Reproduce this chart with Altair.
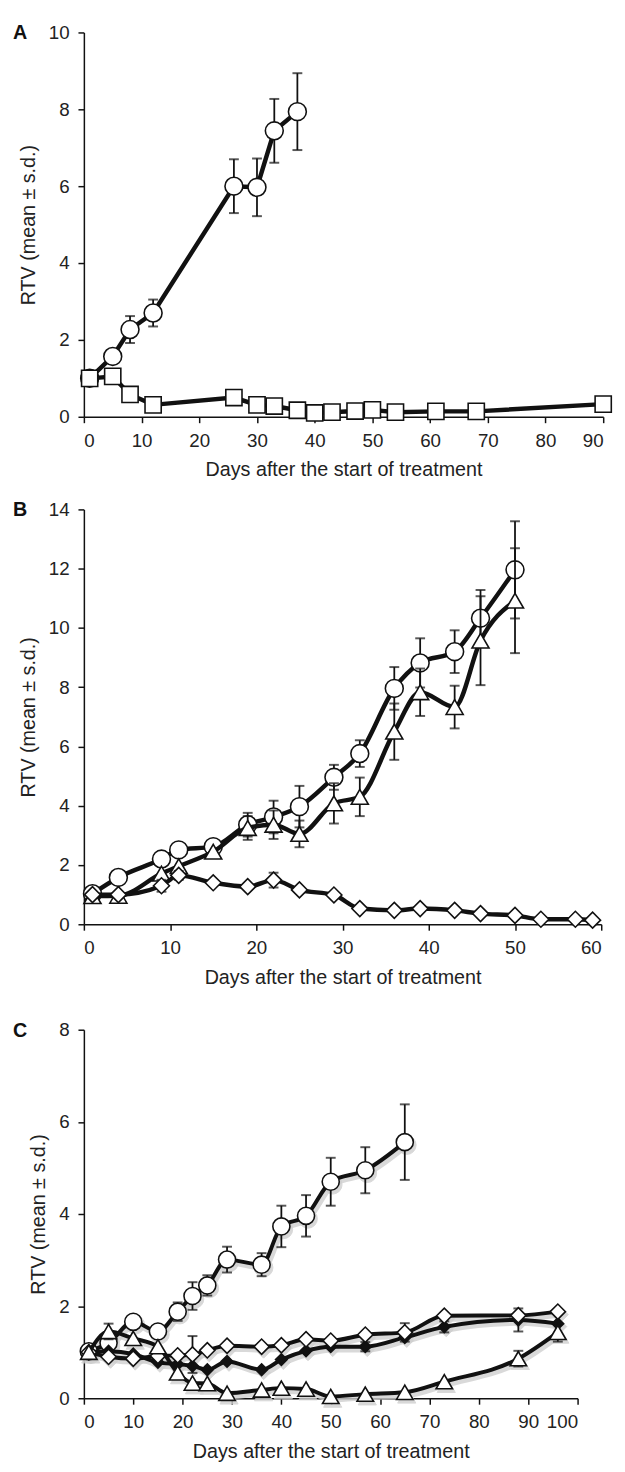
import altair as alt
import pandas as pd

FONT = "Liberation Sans"
INK = "#111111"

# ---------------- Panel A ----------------
a_circle_days = [1, 5, 8, 12, 26, 30, 33, 37]
a_circle = [1.0, 1.57, 2.27, 2.70, 6.00, 5.97, 7.44, 7.94]
a_circle_sd = [0, 0, 0.35, 0.35, 0.70, 0.75, 0.83, 1.00]

a_square_days = [1, 5, 8, 12, 26, 30, 33, 37, 40, 43, 47, 50, 54, 61, 68, 90]
a_square = [1.0, 1.05, 0.58, 0.31, 0.50, 0.31, 0.28, 0.17, 0.10, 0.12, 0.15, 0.18, 0.12, 0.14, 0.14, 0.33]
a_square_sd = [0, 0, 0, 0, 0, 0, 0, 0, 0, 0, 0, 0, 0, 0, 0, 0]

# ---------------- Panel B ----------------
b_days = [1, 4, 9, 11, 15, 19, 22, 25, 29, 32, 36, 39, 43, 46, 50]
b_circle = [1.03, 1.58, 2.20, 2.51, 2.62, 3.36, 3.62, 3.97, 4.96, 5.76, 7.96, 8.82, 9.20, 10.33, 11.96]
b_circle_sd = [0, 0, 0, 0, 0.15, 0.40, 0.55, 0.70, 0.42, 0.45, 0.72, 0.83, 0.72, 0.95, 1.64]
b_triangle = [0.95, 0.96, 1.71, 1.96, 2.45, 3.25, 3.36, 3.05, 4.08, 4.30, 6.50, 7.83, 7.33, 9.57, 10.92]
b_triangle_sd = [0, 0, 0, 0, 0, 0.40, 0.48, 0.45, 0.68, 0.65, 0.95, 0.80, 0.72, 1.50, 1.77]
b_diamond_days = [1, 4, 9, 11, 15, 19, 22, 25, 29, 32, 36, 39, 43, 46, 50, 53, 57, 59]
b_diamond = [1.0, 1.0, 1.30, 1.65, 1.40, 1.27, 1.49, 1.16, 0.99, 0.53, 0.47, 0.53, 0.47, 0.36, 0.30, 0.17, 0.17, 0.14]
b_diamond_sd = [0, 0, 0.20, 0.15, 0, 0, 0.25, 0, 0, 0, 0, 0, 0, 0, 0, 0, 0, 0]

# ---------------- Panel C ----------------
c_circle_days = [1, 5, 10, 15, 19, 22, 25, 29, 36, 40, 45, 50, 57, 65]
c_circle = [1.02, 1.20, 1.66, 1.45, 1.88, 2.22, 2.45, 3.01, 2.90, 3.73, 3.96, 4.70, 4.95, 5.56]
c_circle_sd = [0, 0, 0, 0, 0.20, 0.30, 0.22, 0.28, 0.25, 0.45, 0.45, 0.52, 0.50, 0.82]

c_days = [1, 5, 10, 15, 19, 22, 25, 29, 36, 40, 45, 50, 57, 65, 73, 88, 96]
c_open_diamond = [1.0, 0.90, 0.86, 0.92, 0.93, 0.95, 1.04, 1.14, 1.12, 1.15, 1.28, 1.25, 1.38, 1.43, 1.79, 1.80, 1.88]
c_open_diamond_sd = [0, 0, 0, 0, 0, 0.40, 0, 0, 0, 0, 0, 0, 0, 0.20, 0, 0, 0]
c_black_diamond = [1.0, 1.02, 0.96, 0.78, 0.74, 0.70, 0.62, 0.80, 0.62, 0.84, 1.03, 1.12, 1.12, 1.32, 1.55, 1.70, 1.62]
c_black_diamond_sd = [0, 0, 0, 0, 0, 0, 0, 0, 0, 0, 0, 0, 0.10, 0, 0.12, 0.25, 0]
c_triangle = [1.0, 1.45, 1.30, 1.12, 0.55, 0.33, 0.32, 0.11, 0.18, 0.22, 0.20, 0.04, 0.09, 0.13, 0.36, 0.86, 1.43]
c_triangle_sd = [0, 0.17, 0, 0, 0, 0, 0, 0, 0, 0, 0, 0, 0, 0, 0, 0.17, 0.20]

X_TITLE = "Days after the start of treatment"
Y_TITLE = "RTV (mean ± s.d.)"


def make_panel(letter, series, xmax, xticks, ymax, yticks, width, height,
               interp, line_w, shadow=False):
    xscale = alt.Scale(domain=[0, xmax], nice=False, zero=True)
    yscale = alt.Scale(domain=[0, ymax], nice=False, zero=True)
    xaxis = alt.Axis(values=xticks, title=X_TITLE, grid=False, format="d")
    yaxis = alt.Axis(values=yticks, title=Y_TITLE, grid=False, format="d")

    def X():
        return alt.X("day:Q", scale=xscale, axis=xaxis)

    def Y(field):
        return alt.Y(f"{field}:Q", scale=yscale, axis=yaxis)

    frames = []
    for s in series:
        df = pd.DataFrame({"day": s["days"], "v": s["vals"], "sd": s["sd"]})
        df["lo"] = df["v"] - df["sd"]
        df["hi"] = df["v"] + df["sd"]
        frames.append((s, df))

    layers = []
    if shadow:
        for s, df in frames:
            layers.append(
                alt.Chart(df).mark_line(
                    color="#cfcfcf", strokeWidth=line_w + 2, interpolate=interp,
                    xOffset=2, yOffset=3, opacity=0.8,
                ).encode(x=X(), y=Y("v"))
            )
            layers.append(
                alt.Chart(df).mark_point(
                    shape=s["shape"], size=s["size"] + 60, filled=True,
                    fill="#cfcfcf", stroke="#cfcfcf", strokeWidth=1,
                    xOffset=2, yOffset=3, opacity=0.8,
                ).encode(x=X(), y=Y("v"))
            )

    for s, df in frames:
        err = df[df["sd"] > 0]
        if len(err) > 0:
            layers.append(
                alt.Chart(err).mark_rule(color=INK, strokeWidth=1.8).encode(
                    x=X(), y=Y("lo"), y2="hi:Q"
                )
            )
            for f in ["lo", "hi"]:
                layers.append(
                    alt.Chart(err).mark_tick(
                        color=INK, orient="horizontal", size=10, thickness=2
                    ).encode(x=X(), y=Y(f))
                )
        layers.append(
            alt.Chart(df).mark_line(
                color=INK, strokeWidth=line_w, interpolate=interp
            ).encode(x=X(), y=Y("v"))
        )
        layers.append(
            alt.Chart(df).mark_point(
                shape=s["shape"], size=s["size"], filled=True,
                fill=s["fill"], stroke=INK, strokeWidth=1.6, opacity=1,
            ).encode(x=X(), y=Y("v"))
        )

    label = alt.Chart(pd.DataFrame({"t": [letter]})).mark_text(
        font=FONT, fontSize=20, fontWeight="bold", align="left",
        baseline="middle", color=INK,
    ).encode(x=alt.value(-72), y=alt.value(1), text="t:N")
    layers.append(label)

    return alt.layer(*layers).properties(width=width, height=height)


panel_a = make_panel(
    "A",
    [
        dict(days=a_circle_days, vals=a_circle, sd=a_circle_sd, shape="circle", size=330, fill="white"),
        dict(days=a_square_days, vals=a_square, sd=a_square_sd, shape="square", size=270, fill="white"),
    ],
    90, [0, 10, 20, 30, 40, 50, 60, 70, 80, 90], 10, [0, 2, 4, 6, 8, 10],
    527, 390, "linear", 4.5,
)

panel_b = make_panel(
    "B",
    [
        dict(days=b_days, vals=b_circle, sd=b_circle_sd, shape="circle", size=330, fill="white"),
        dict(days=b_days, vals=b_triangle, sd=b_triangle_sd, shape="triangle-up", size=300, fill="white"),
        dict(days=b_diamond_days, vals=b_diamond, sd=b_diamond_sd, shape="diamond", size=260, fill="white"),
    ],
    60, [0, 10, 20, 30, 40, 50, 60], 14, [0, 2, 4, 6, 8, 10, 12, 14],
    525, 421, "monotone", 4.5,
)

panel_c = make_panel(
    "C",
    [
        dict(days=c_circle_days, vals=c_circle, sd=c_circle_sd, shape="circle", size=300, fill="white"),
        dict(days=c_days, vals=c_black_diamond, sd=c_black_diamond_sd, shape="diamond", size=140, fill=INK),
        dict(days=c_days, vals=c_open_diamond, sd=c_open_diamond_sd, shape="diamond", size=240, fill="white"),
        dict(days=c_days, vals=c_triangle, sd=c_triangle_sd, shape="triangle-up", size=280, fill="white"),
    ],
    100, [0, 10, 20, 30, 40, 50, 60, 70, 80, 90, 100], 8, [0, 2, 4, 6, 8],
    501, 374, "monotone", 4, shadow=True,
)

top = alt.vconcat(panel_a, panel_b, spacing=21)

chart = (
    alt.vconcat(top, panel_c, spacing=34)
    .properties(padding={"left": 5, "top": 5, "right": 2, "bottom": 0}, background="white")
    .configure_view(stroke=None)
    .configure_axis(
        domainColor=INK, tickColor=INK, domainWidth=1.5, tickWidth=1.5, tickSize=6,
        labelFont=FONT, labelFontSize=19, labelColor="#222222", labelPadding=9,
        titleFont=FONT, titleFontSize=20, titleFontWeight="normal", titleColor="#222222",
        titlePadding=10,
    )
)

chart.save("out.html", embed_options={"renderer": "svg", "actions": False})
